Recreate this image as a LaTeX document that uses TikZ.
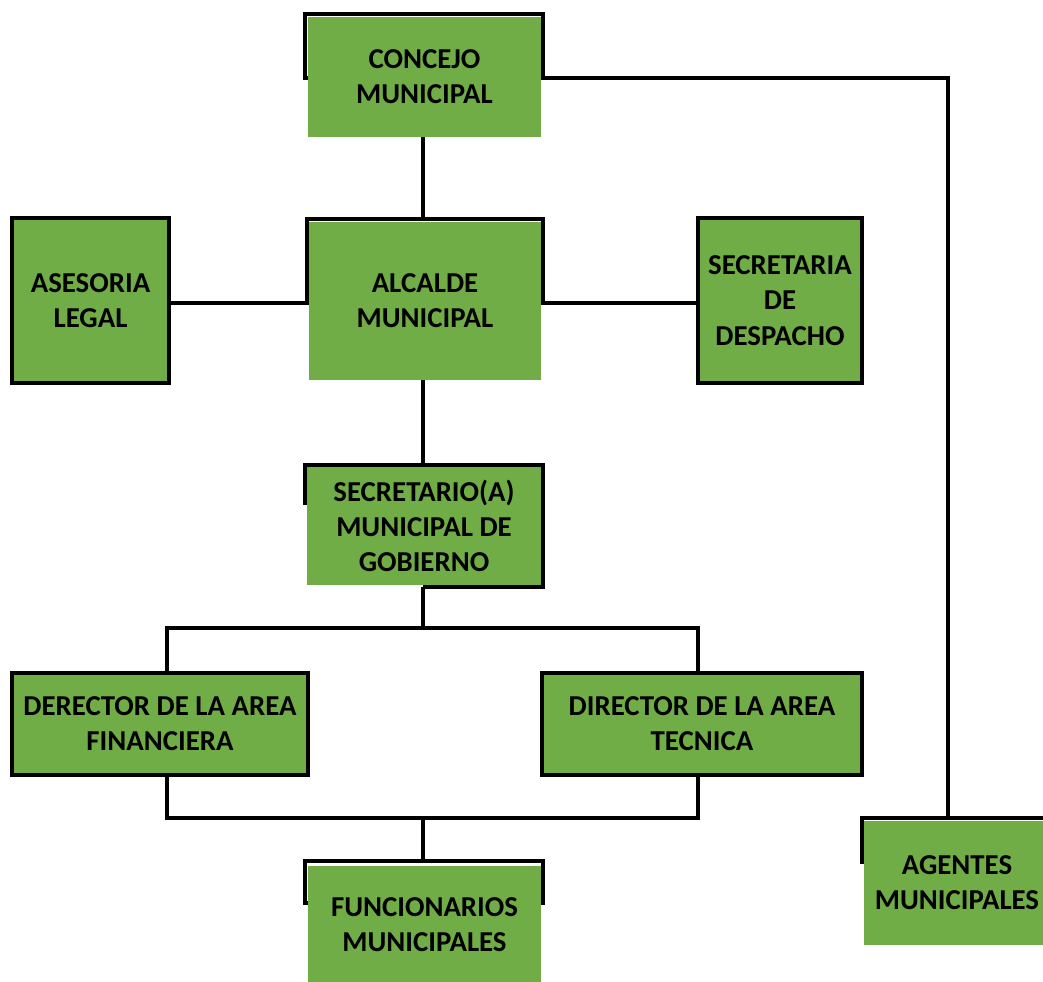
\documentclass[tikz,border=0pt]{standalone}
\usepackage{fontspec}
\setmainfont{Carlito}
\definecolor{verde}{RGB}{112,173,71}
\tikzset{
  marco/.style={draw, line width=2.8pt, inner sep=0pt, outer sep=0pt},
  caja/.style={fill=verde, inner sep=0pt, outer sep=0pt, align=center,
    font=\bfseries\fontsize{20.5}{25}\selectfont},
  linea/.style={line width=2.6pt}
}

\begin{document}
\begin{tikzpicture}[x=0.025cm, y=-0.025cm]
    \useasboundingbox (0,0) rectangle (1043,981);
    % marcos que asoman por detras
    \node[marco, minimum width=5.95cm, minimum height=1.6cm] (mConcejo) at (424,46) {};
    \node[marco, minimum width=5.9cm, minimum height=2.1cm] (mAlcalde) at (425,261) {};
    \node[marco, minimum width=5.95cm, minimum height=0.95cm] (mSecretario) at (424,484) {};
    \draw[marco] (mSecretario.south east) -- ++(0,84) -- ++(-120,0) coordinate (sBase);
    \node[marco, minimum width=5.95cm, minimum height=1.05cm] (mFuncionarios) at (424,882) {};
    \node[marco, minimum width=4.7cm, minimum height=1.1cm] (mAgentes) at (956,840) {};
    % cajas
    \node[caja, minimum width=5.825cm, minimum height=3cm] (concejo) at (424.5,77) {CONCEJO\\MUNICIPAL};
    \node[caja, minimum width=5.8cm, minimum height=3.95cm] (alcalde) at (425,301) {ALCALDE\\MUNICIPAL};
    \node[caja, marco, minimum width=3.925cm, minimum height=4.125cm] (asesoria) at (90.5,300.5) {ASESORIA\\LEGAL};
    \node[caja, marco, minimum width=4.1cm, minimum height=4.125cm] (secretaria) at (780,300.5) {SECRETARIA\\DE\\DESPACHO};
    \node[caja, minimum width=5.85cm, minimum height=2.95cm] (secretario) at (424,526) {SECRETARIO(A)\\MUNICIPAL DE\\GOBIERNO};
    \node[caja, marco, minimum width=7.4cm, minimum height=2.55cm] (derector) at (160,724) {DERECTOR DE LA AREA\\FINANCIERA};
    \node[caja, marco, minimum width=8cm, minimum height=2.55cm] (director) at (702,724) {DIRECTOR DE LA AREA\\TECNICA};
    \node[caja, minimum width=5.825cm, minimum height=2.95cm] (funcionarios) at (424.5,925) {FUNCIONARIOS\\MUNICIPALES};
    \node[caja, minimum width=4.65cm, minimum height=3.1cm] (agentes) at (957,883) {AGENTES\\MUNICIPALES};
    % lineas
    \coordinate (codo) at (948,78);
    \coordinate (bifI) at (167,628);
    \coordinate (bifD) at (698,628);
    \coordinate (uniI) at (167,818);
    \coordinate (uniD) at (698,818);
    \draw[linea] (sBase |- concejo.south) -- (sBase |- mAlcalde.north);
    \draw[linea] (mConcejo.south east) -- (codo) -- (codo |- mAgentes.north);
    \draw[linea] (mAlcalde.south west) -- (mAlcalde.south west -| asesoria.east);
    \draw[linea] (mAlcalde.south east) -- (mAlcalde.south east -| secretaria.west);
    \draw[linea] (sBase |- alcalde.south) -- (sBase |- mSecretario.north);
    \draw[linea] (sBase) |- (bifI) -- (bifI |- derector.north);
    \draw[linea] (sBase |- bifD) -- (bifD) -- (bifD |- director.north);
    \draw[linea] (uniI |- derector.south) -- (uniI) -- (uniD) -- (uniD |- director.south);
    \draw[linea] (sBase |- uniI) -- (sBase |- mFuncionarios.north);
\end{tikzpicture}
\end{document}
